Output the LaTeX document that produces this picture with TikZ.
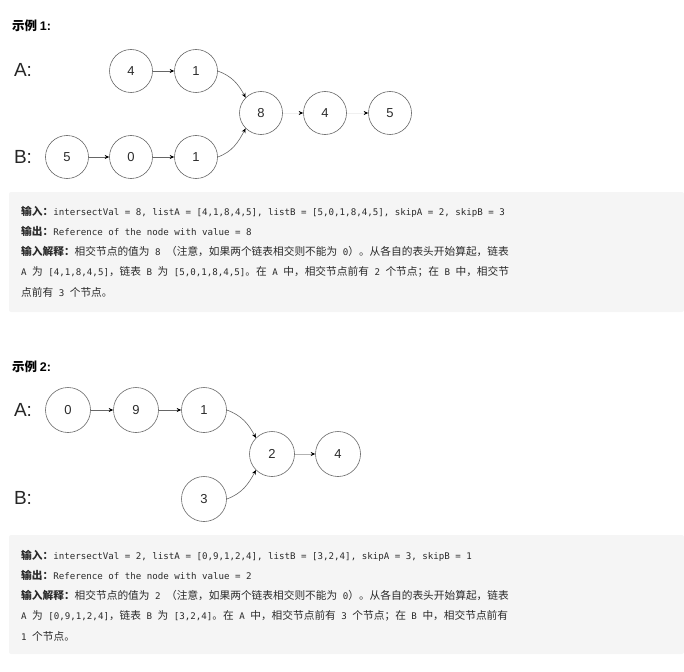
\documentclass[tikz,border=0pt]{standalone}
\usepackage{fontspec}
\setmainfont{Liberation Sans}
\setmonofont{DejaVu Sans Mono}
\newfontfamily\cjk{Noto Sans CJK SC}
\usetikzlibrary{arrows.meta}
\definecolor{boxgray}{HTML}{F5F5F5}
\definecolor{ink}{HTML}{2B2B2B}
\definecolor{ring}{HTML}{666666}
\newcommand{\zh}[1]{{\cjk\fontsize{10.7}{13}\selectfont #1}}
\newcommand{\zhb}[1]{{\cjk\bfseries\fontsize{10.7}{13}\selectfont #1}}
\newcommand{\mo}[1]{{\ttfamily\fontsize{9.15}{13}\selectfont #1}}
\newcommand{\heading}[1]{{\cjk\bfseries\fontsize{12.5}{14}\selectfont 示例} {\bfseries\fontsize{12.5}{14}\selectfont #1:}}

\begin{document}
\begin{tikzpicture}[x=1pt,y=-1pt]
	% `elem' is a list node, `link' the arrow between two nodes.
	% `faint' is the almost white arrow after the meeting node.
	\tikzstyle{elem} = [draw=ring,line width=0.6pt,circle,minimum size=43pt,inner sep=0pt,text=ink,font=\fontsize{13}{13}\selectfont]
	\tikzstyle{bigelem} = [elem,minimum size=45pt]
	\tikzstyle{link} = [draw=ring,line width=0.6pt,-{Stealth[length=4.5pt,width=4pt,color=black]}]
	\tikzstyle{faint} = [link,draw=gray!12]
	\tikzstyle{listname} = [text=black!85,font=\fontsize{19}{19}\selectfont]
	\tikzstyle{textline} = [anchor=base west,inner sep=0pt,text=ink]
	\tikzstyle{surround} = [fill=boxgray,rounded corners=2pt]
	\useasboundingbox (0,0) rectangle (684,671);
	%
	% First example.
	\node[anchor=base west,inner sep=0pt] (head1) at (12,31) {\heading{1}};
	\node[listname] (la1) at (23,70) {A:};
	\node[listname] (lb1) at (23,157) {B:};
	\node[elem] (xa0) at (131,71) {4};
	\node[elem] (xa1) at (196,71) {1};
	\node[elem] (xb0) at (67,157) {5};
	\node[elem] (xb1) at (131,157) {0};
	\node[elem] (xb2) at (196,157) {1};
	\node[elem] (xc0) at (261,113) {8};
	\node[elem] (xc1) at (325,113) {4};
	\node[elem] (xc2) at (390,113) {5};
	\draw[link] (xa0) -- (xa1);
	\draw[link] (xb0) -- (xb1);
	\draw[link] (xb1) -- (xb2);
	\draw[link] (xa1.east) to[out=-20,in=118] (xc0.135);
	\draw[link] (xb2.east) to[out=20,in=-118] (xc0.225);
	\draw[faint] (xc0) -- (xc1);
	\draw[faint] (xc1) -- (xc2);
	% Grey box with the text.
	\fill[surround] (9,192) rectangle (684,312);
	\node[textline] (in1) at (21,215) {\zhb{输入：}\mo{intersectVal = 8, listA = [4,1,8,4,5], listB = [5,0,1,8,4,5], skipA = 2, skipB = 3}};
	\node[textline] (out1) at (21,235.5) {\zhb{输出：}\mo{Reference of the node with value = 8}};
	\node[textline] (why1) at (21,255.5) {\zhb{输入解释：}\zh{相交节点的值为}\mo{ 8 }\zh{（注意，如果两个链表相交则不能为}\mo{ 0}\zh{）。从各自的表头开始算起，链表}};
	\node[textline] (why1b) at (21,275.5) {\mo{A }\zh{为}\mo{ [4,1,8,4,5]}\zh{，链表}\mo{ B }\zh{为}\mo{ [5,0,1,8,4,5]}\zh{。在}\mo{ A }\zh{中，相交节点前有}\mo{ 2 }\zh{个节点；在}\mo{ B }\zh{中，相交节}};
	\node[textline] (why1c) at (21,296) {\zh{点前有}\mo{ 3 }\zh{个节点。}};
	%
	% Second example.
	\node[anchor=base west,inner sep=0pt] (head2) at (12,371) {\heading{2}};
	\node[listname] (la2) at (23,410) {A:};
	\node[listname] (lb2) at (23,498) {B:};
	\node[bigelem] (ya0) at (68,410) {0};
	\node[bigelem] (ya1) at (136,410) {9};
	\node[bigelem] (ya2) at (204,410) {1};
	\node[bigelem] (yb0) at (204,499) {3};
	\node[bigelem] (yc0) at (272,454) {2};
	\node[bigelem] (yc1) at (338,454) {4};
	\draw[link] (ya0) -- (ya1);
	\draw[link] (ya1) -- (ya2);
	\draw[link] (ya2.east) to[out=-20,in=118] (yc0.135);
	\draw[link] (yb0.east) to[out=20,in=-118] (yc0.225);
	\draw[link,draw=gray!60] (yc0) -- (yc1);
	% Grey box with the text.
	\fill[surround] (9,535) rectangle (684,654);
	\node[textline] (in2) at (21,559) {\zhb{输入：}\mo{intersectVal = 2, listA = [0,9,1,2,4], listB = [3,2,4], skipA = 3, skipB = 1}};
	\node[textline] (out2) at (21,579) {\zhb{输出：}\mo{Reference of the node with value = 2}};
	\node[textline] (why2) at (21,599.5) {\zhb{输入解释：}\zh{相交节点的值为}\mo{ 2 }\zh{（注意，如果两个链表相交则不能为}\mo{ 0}\zh{）。从各自的表头开始算起，链表}};
	\node[textline] (why2b) at (21,619) {\mo{A }\zh{为}\mo{ [0,9,1,2,4]}\zh{，链表}\mo{ B }\zh{为}\mo{ [3,2,4]}\zh{。在}\mo{ A }\zh{中，相交节点前有}\mo{ 3 }\zh{个节点；在}\mo{ B }\zh{中，相交节点前有}};
	\node[textline] (why2c) at (21,640) {\mo{1 }\zh{个节点。}};
%
\end{tikzpicture}
\end{document}
